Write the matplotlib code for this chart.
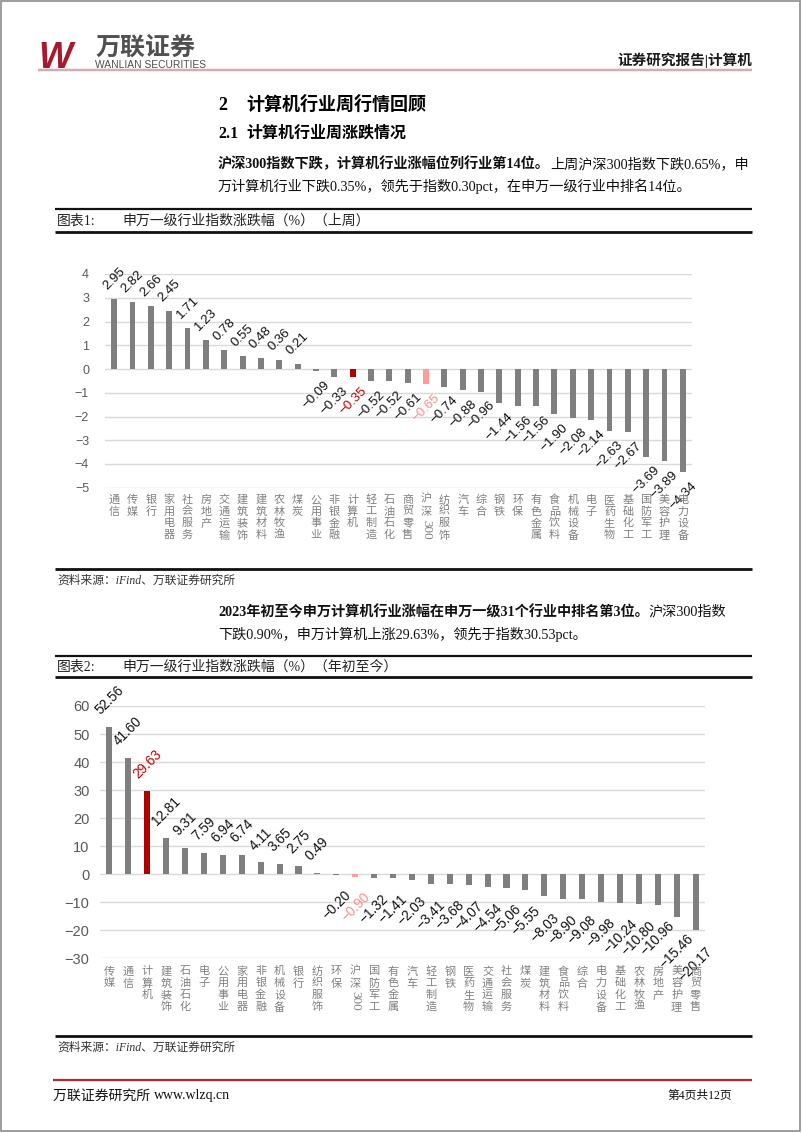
import numpy as np
import matplotlib
matplotlib.use('Agg')
import matplotlib.pyplot as plt
from matplotlib.lines import Line2D
from matplotlib.patches import Rectangle
from matplotlib import font_manager

# ---------------- data ----------------
week_categories = ['通信', '传媒', '银行', '家用电器', '社会服务', '房地产', '交通运输', '建筑装饰',
                   '建筑材料', '农林牧渔', '煤炭', '公用事业', '非银金融', '计算机', '轻工制造', '石油石化',
                   '商贸零售', '沪深300', '纺织服饰', '汽车', '综合', '钢铁', '环保', '有色金属',
                   '食品饮料', '机械设备', '电子', '医药生物', '基础化工', '国防军工', '美容护理', '电力设备']
week_values = [2.95, 2.82, 2.66, 2.45, 1.71, 1.23, 0.78, 0.55, 0.48, 0.36, 0.21, -0.09, -0.33, -0.35,
               -0.52, -0.52, -0.61, -0.65, -0.74, -0.88, -0.96, -1.44, -1.56, -1.56, -1.90, -2.08,
               -2.14, -2.63, -2.67, -3.69, -3.89, -4.34]
week_yticks = [-5, -4, -3, -2, -1, 0, 1, 2, 3, 4]

ytd_categories = ['传媒', '通信', '计算机', '建筑装饰', '石油石化', '电子', '公用事业', '家用电器',
                  '非银金融', '机械设备', '银行', '纺织服饰', '环保', '沪深300', '国防军工', '有色金属',
                  '汽车', '轻工制造', '钢铁', '医药生物', '交通运输', '社会服务', '煤炭', '建筑材料',
                  '食品饮料', '综合', '电力设备', '基础化工', '农林牧渔', '房地产', '美容护理', '商贸零售']
ytd_values = [52.56, 41.60, 29.63, 12.81, 9.31, 7.59, 6.94, 6.74, 4.11, 3.65, 2.75, 0.49, -0.20, -0.90,
              -1.32, -1.41, -2.03, -3.41, -3.68, -4.07, -4.54, -5.06, -5.55, -8.03, -8.90, -9.08,
              -9.98, -10.24, -10.80, -10.96, -15.46, -20.17]
ytd_yticks = [-30, -20, -10, 0, 10, 20, 30, 40, 50, 60]

# ---------------- setup ----------------
W, H = 802, 1133
fig = plt.figure(figsize=(W / 100, H / 100), dpi=100)
fig.patch.set_facecolor('white')

names = {f.name for f in font_manager.fontManager.ttflist}
CJK = ['Noto Sans CJK SC', 'DejaVu Sans']
SER = ['Liberation Serif', 'Noto Sans CJK SC', 'DejaVu Sans']
ARIAL = ['Liberation Sans', 'DejaVu Sans']
NARROW = ['Liberation Sans Narrow'] if 'Liberation Sans Narrow' in names else ARIAL
plt.rcParams['font.family'] = CJK
plt.rcParams['axes.unicode_minus'] = True

renderer = fig.canvas.get_renderer()


def X(px):
    return px / W


def Y(py):
    return 1 - py / H


def hline(x0, x1, y, lw_px, color):
    fig.add_artist(Line2D([X(x0), X(x1)], [Y(y), Y(y)], transform=fig.transFigure,
                          lw=lw_px * 0.72, color=color, solid_capstyle='butt'))


def runs(x, y, parts, size, family=SER):
    cur = x
    for s, bold, color in parts:
        t = fig.text(X(cur), Y(y), s, fontsize=size, fontweight='bold' if bold else 'normal',
                     color=color, family=family, ha='left', va='center')
        cur = t.get_window_extent(renderer).x1
    return cur


def measure(parts, size, family=SER):
    total = 0
    for s, bold, color in parts:
        t = fig.text(0, 0, s, fontsize=size, fontweight='bold' if bold else 'normal', family=family)
        total += t.get_window_extent(renderer).width
        t.remove()
    return total


# page border
fig.add_artist(Rectangle((X(1), Y(1131)), 799 / W, 1130 / H, transform=fig.transFigure,
                         fill=False, edgecolor='#8C8C8C', lw=1.2))

# ---------------- header ----------------
fig.text(X(38), Y(68), 'W', fontsize=26, fontweight='bold', style='italic', family=NARROW,
         color='#A6192E', ha='left', va='baseline')
fig.text(X(95), Y(48), '万联证券', fontsize=18, fontweight='bold', color='#505050',
         family=CJK, ha='left', va='center')
fig.text(X(95), Y(65.5), 'WANLIAN SECURITIES', fontsize=7.4, color='#505050',
         family=ARIAL, ha='left', va='center')
fig.text(X(752), Y(60), '证券研究报告|计算机', fontsize=10.5, fontweight='bold', color='#1A1A1A',
         family=SER, ha='right', va='center')
hline(38, 752, 70, 2.5, '#D2AEB4')

# ---------------- headings ----------------
fig.text(X(218), Y(105), '2', fontsize=13, fontweight='bold', family=SER, ha='left', va='center')
fig.text(X(246), Y(105), '计算机行业周行情回顾', fontsize=13, fontweight='bold', family=SER,
         ha='left', va='center')
fig.text(X(218), Y(134), '2.1', fontsize=11.5, fontweight='bold', family=SER, ha='left', va='center')
fig.text(X(246), Y(134), '计算机行业周涨跌情况', fontsize=11.5, fontweight='bold', family=SER,
         ha='left', va='center')

BLK = '#111111'
p1l1 = [('沪深300指数下跌，计算机行业涨幅位列行业第14位。', True, BLK),
        ('上周沪深300指数下跌0.65%，申', False, BLK)]
body = 10 * (750 - 218) / measure(p1l1, 10)
runs(218, 164, p1l1, body)
runs(218, 186, [('万计算机行业下跌0.35%，领先于指数0.30pct，在申万一级行业中排名14位。', False, BLK)], body)

runs(218, 612, [('2023年初至今申万计算机行业涨幅在申万一级31个行业中排名第3位。', True, BLK),
                ('沪深300指数', False, BLK)], body)
runs(218, 634, [('下跌0.90%，申万计算机上涨29.63%，领先于指数30.53pct。', False, BLK)], body)

# ---------------- chart frames ----------------
def frame(top, bottom, title_no, title):
    hline(55, 752, top, 2.2, '#111111')
    hline(55, 752, bottom, 2.8, '#111111')
    fig.text(X(57), Y((top + bottom) / 2), title_no, fontsize=10, family=SER, color='#222222',
             ha='left', va='center')
    fig.text(X(122), Y((top + bottom) / 2), title, fontsize=10, family=SER, color='#222222',
             ha='left', va='center')


frame(209, 232, '图表1:', '申万一级行业指数涨跌幅（%）（上周）')
frame(656, 677, '图表2:', '申万一级行业指数涨跌幅（%）（年初至今）')

hline(55, 752, 569, 2.8, '#111111')
fig.text(X(57), Y(581), '资料来源：iFind、万联证券研究所', fontsize=8.5, style='italic',
         family=SER, color='#333333', ha='left', va='center')
hline(55, 752, 1036, 2.8, '#111111')
fig.text(X(57), Y(1048), '资料来源：iFind、万联证券研究所', fontsize=8.5, style='italic',
         family=SER, color='#333333', ha='left', va='center')

# ---------------- footer ----------------
hline(53, 752, 1080, 2.2, '#B8262E')
runs(53, 1096, [('万联证券研究所 ', False, BLK), ('www.wlzq.cn', False, BLK)], 10)
fig.text(X(732), Y(1096), '第4页共12页', fontsize=8.5, family=SER, color=BLK, ha='right', va='center')

# ---------------- charts ----------------
GRAY = '#7F7F7F'
RED = '#B00000'
PINK = '#FF9B9B'
PITCH = 8.5  # points between stacked characters


def chart(rect, cats, vals, yticks, ytick_size, ytick_pad, val_size, pos_off, neg_off, lab_top):
    ax = fig.add_axes(rect)
    x = np.arange(len(cats))
    colors = [RED if c == '计算机' else PINK if c == '沪深300' else GRAY for c in cats]
    ax.bar(x, vals, width=0.32, color=colors, zorder=3)
    ax.set_xlim(-0.5, len(cats) - 0.5)
    ax.set_ylim(yticks[0], yticks[-1])
    ax.set_yticks(yticks)
    ax.grid(axis='y', color='#D9D9D9', lw=1.0)
    ax.set_axisbelow(True)
    for sp in ax.spines.values():
        sp.set_visible(False)
    ax.set_xticks([])
    ax.tick_params(axis='y', length=0, pad=ytick_pad, labelsize=ytick_size, labelcolor='#595959')
    for lab in ax.get_yticklabels():
        lab.set_family(ARIAL)
    tx = ax.get_xaxis_transform()
    for i, (c, v) in enumerate(zip(cats, vals)):
        col = '#C00000' if c == '计算机' else '#FF8C8C' if c == '沪深300' else '#111111'
        s = f'{v:.2f}'.replace('-', '\u2212')
        ax.annotate(s, (i, v), xytext=(0, pos_off if v >= 0 else -neg_off), textcoords='offset points',
                    rotation=45, ha='center', va='bottom' if v >= 0 else 'top', fontsize=val_size,
                    color=col, family=ARIAL, annotation_clip=False)
        chars = ['沪', '深'] if c == '沪深300' else list(c)
        for k, ch in enumerate(chars):
            ax.annotate(ch, (i, 0), xycoords=tx, xytext=(0, -lab_top - k * PITCH),
                        textcoords='offset points', ha='center', va='top', fontsize=8,
                        color='#808080', family=CJK, annotation_clip=False)
        if c == '沪深300':
            ax.annotate('300', (i, 0), xycoords=tx, xytext=(0, -lab_top - 2 * PITCH - 1),
                        textcoords='offset points', ha='center', va='top', rotation=270,
                        fontsize=9.5, color='#808080', family=SER, annotation_clip=False)
    return ax


chart([X(105), Y(487.75), 587 / W, 213.75 / H], week_categories, week_values, week_yticks,
      9, 11.5, 9.5, 5, 5.5, 5)
chart([X(100), Y(958), 605 / W, 252 / H], ytd_categories, ytd_values, ytd_yticks,
      10.5, 7.5, 9.8, 7, 10, 6)

fig.savefig('out.png', dpi=100, facecolor='white')
